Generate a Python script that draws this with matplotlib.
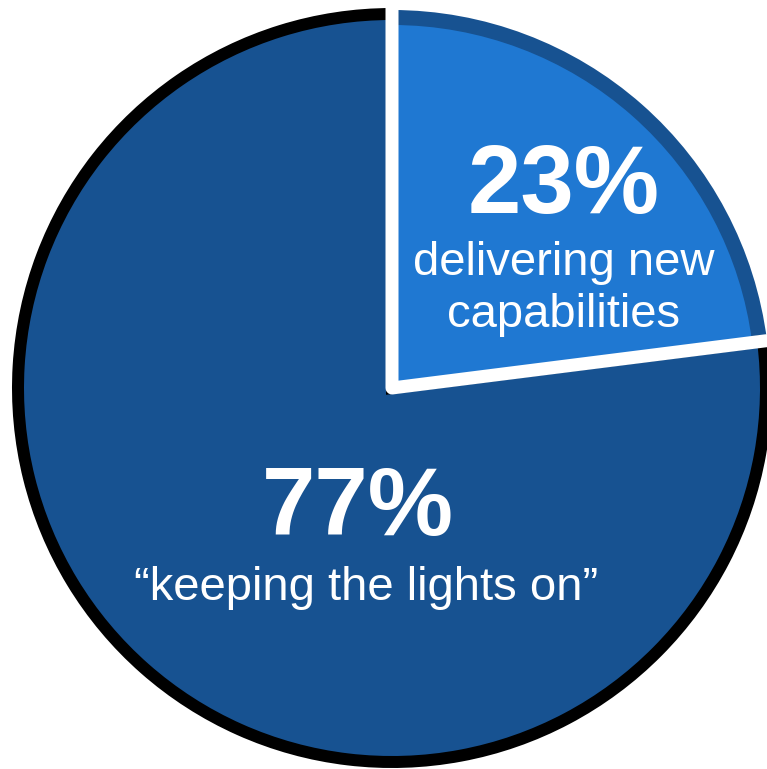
import numpy as np
import matplotlib
matplotlib.use('Agg')
import matplotlib.pyplot as plt

plt.rcParams['font.family'] = ['Liberation Sans', 'DejaVu Sans']

# shares of IT budget
labels = ['delivering new\ncapabilities', '\u201ckeeping the lights on\u201d']
values = [23, 77]
pct_text = ['23%', '77%']

dark_blue = '#175291'
light_blue = '#1f78d2'

# pixel geometry of the reference, used to map to data units
W, H = 767, 769
cx, cy, R = 392, 388, 374

fig = plt.figure(figsize=(W / 100, H / 100), dpi=100)
ax = fig.add_axes([0, 0, 1, 1])

def px(x, y):
    return (x - cx) / R, (cy - y) / R

# outer layer: both slices dark, big one with black rim
outer, _ = ax.pie(values, colors=[dark_blue, dark_blue], startangle=90,
                  counterclock=False, radius=1.0,
                  wedgeprops=dict(linewidth=12 * 0.72, edgecolor='black'))
outer[0].set_edgecolor('none')
outer[0].set_radius(378 / R)

# inner light fill for the small slice
inner, _ = ax.pie(values, colors=[light_blue, 'none'], startangle=90,
                  counterclock=False, radius=363 / R,
                  wedgeprops=dict(linewidth=0))

# white separators on the slice boundaries
ang = np.deg2rad(90 - 360 * np.cumsum([0] + values[:1]) / sum(values))
r_out = 1.1
xs = [r_out * np.cos(ang[0]), 0, r_out * np.cos(ang[1])]
ys = [r_out * np.sin(ang[0]), 0, r_out * np.sin(ang[1])]
ax.plot(xs, ys, color='white', lw=13 * 0.72, solid_joinstyle='round',
        solid_capstyle='butt')

# labels
x, y = px(564, 213)
ax.text(x, y, pct_text[0], color='white', fontsize=69, fontweight='bold',
        ha='center', va='baseline')
for line, base in zip(labels[0].split('\n'), [275, 327]):
    x, y = px(564, base)
    ax.text(x, y, line, color='white', fontsize=34, ha='center', va='baseline')

x, y = px(358, 535)
ax.text(x, y, pct_text[1], color='white', fontsize=69, fontweight='bold',
        ha='center', va='baseline')
x, y = px(366, 600)
ax.text(x, y, labels[1], color='white', fontsize=34, ha='center', va='baseline')

ax.set_xlim(-cx / R, (W - cx) / R)
ax.set_ylim(-(H - cy) / R, cy / R)
ax.set_aspect('equal')
ax.axis('off')

fig.savefig('out.png', dpi=100)
